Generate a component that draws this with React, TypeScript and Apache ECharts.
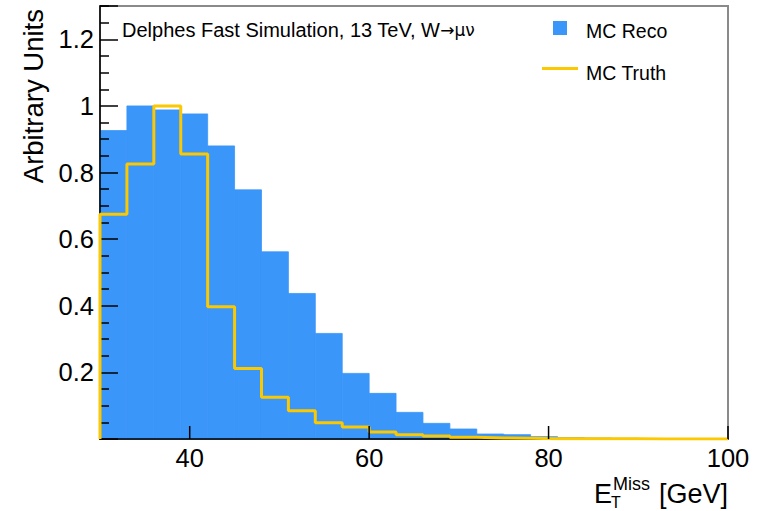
import React, { useEffect, useRef } from 'react';
import * as echarts from 'echarts';

// Lower edges of the 3 GeV bins (last entry is the upper edge of the last bin)
const binEdges = [30, 33, 36, 39, 42, 45, 48, 51, 54, 57, 60, 63, 66, 69, 72, 75, 78, 81, 84, 87, 90, 93, 96, 99];
const recoValues = [0.926, 1.0, 0.988, 0.976, 0.88, 0.748, 0.562, 0.437, 0.317, 0.197, 0.137, 0.08, 0.047, 0.03, 0.015, 0.013, 0.007, 0.004, 0.003, 0.002, 0.001, 0.001, 0.001];
const truthValues = [0.675, 0.826, 1.0, 0.856, 0.397, 0.212, 0.125, 0.085, 0.049, 0.036, 0.021, 0.013, 0.009, 0.005, 0.003, 0.002, 0.001, 0.001, 0.0005, 0.0005, 0.0003, 0.0002, 0.0002];
const xTickValues = [40, 60, 80, 100];
const yTickLabelValues = [0.2, 0.4, 0.6, 0.8, 1, 1.2];

const BLUE = '#3a96f9';
const YELLOW = '#fcc800';
const FONT = '"Liberation Sans", Arial, Helvetica, sans-serif';

export default function App() {
  const ref = useRef<HTMLDivElement>(null);
  useEffect(() => {
    if (!ref.current) return;
    const chart = echarts.init(ref.current, null, { renderer: 'svg' });

    const recoData = recoValues.map((v, i) => [binEdges[i], binEdges[i + 1], v]);
    const truthData: number[][] = [[binEdges[0], 0]];
    truthValues.forEach((v, i) => truthData.push([binEdges[i], v]));
    truthData.push([100, truthValues[truthValues.length - 1]]);

    const option: any = {
      animation: false,
      backgroundColor: '#ffffff',
      textStyle: { fontFamily: FONT },
      grid: { left: 100, right: 32, top: 6, bottom: 72, show: true, borderColor: '#8a8a8a', borderWidth: 2, backgroundColor: 'transparent' },
      xAxis: {
        type: 'value', min: 30, max: 100, interval: 10, z: 3,
        axisLine: { show: true, onZero: false, lineStyle: { color: '#000', width: 1.5 } },
        axisTick: { show: false },
        splitLine: { show: false },
        axisLabel: {
          formatter: (v: number) => (xTickValues.indexOf(v) >= 0 ? String(v) : ''),
          fontSize: 25.5, color: '#000', margin: 6, fontFamily: FONT,
        },
      },
      yAxis: {
        type: 'value', min: 0, max: 1.3, interval: 0.2, z: 3,
        axisLine: { show: true, onZero: false, lineStyle: { color: '#000', width: 1.5 } },
        axisTick: { show: true, inside: true, length: 18, lineStyle: { color: '#000', width: 1.5 } },
        minorTick: { show: true, splitNumber: 4, length: 9, lineStyle: { color: '#000', width: 1.5 } },
        splitLine: { show: false },
        minorSplitLine: { show: false },
        axisLabel: {
          formatter: (v: number) => {
            const m = yTickLabelValues.find((t) => Math.abs(t - v) < 1e-6);
            return m === undefined ? '' : String(m);
          },
          fontSize: 25.5, color: '#000', margin: 6, fontFamily: FONT,
        },
      },
      series: [
        {
          type: 'custom', name: 'MC Reco', z: 2, silent: true,
          data: recoData,
          encode: { x: [0, 1], y: 2 },
          itemStyle: { color: BLUE },
          renderItem: (params: any, api: any) => {
            const x0 = api.value(0);
            const x1 = Math.min(api.value(1), 100);
            const v = api.value(2);
            const p0 = api.coord([x0, v]);
            const p1 = api.coord([x1, 0]);
            return {
              type: 'rect',
              shape: { x: p0[0], y: p0[1], width: p1[0] - p0[0], height: p1[1] - p0[1] },
              style: { fill: BLUE, stroke: BLUE, lineWidth: 0.8 },
            };
          },
        },
        {
          type: 'line', name: 'MC Truth', z: 4, silent: true,
          data: truthData, step: 'end', symbol: 'none',
          lineStyle: { color: YELLOW, width: 3 },
          itemStyle: { color: YELLOW },
        },
        {
          type: 'custom', name: 'xticks', z: 5, silent: true,
          data: xTickValues.map((v) => [v, 0]),
          renderItem: (params: any, api: any) => {
            const p = api.coord([api.value(0), 0]);
            return {
              type: 'line',
              shape: { x1: p[0], y1: p[1], x2: p[0], y2: p[1] - 13 },
              style: { stroke: '#000', lineWidth: 1.5 },
            };
          },
        },
      ],
      graphic: [
        {
          type: 'text', x: 33, y: 9, rotation: Math.PI / 2,
          style: { text: 'Arbitrary Units', fontSize: 27.5, fontFamily: FONT, fill: '#000', align: 'right', verticalAlign: 'middle' },
        },
        {
          type: 'text', x: 122, y: 30,
          style: {
            text: '{a|Delphes Fast Simulation, 13 TeV, W}{b|→μν}',
            verticalAlign: 'middle', align: 'left',
            rich: {
              a: { fontSize: 20, fontFamily: FONT, fill: '#000', color: '#000' },
              b: { fontSize: 17, fontFamily: '"DejaVu Sans", ' + FONT, fill: '#000', color: '#000' },
            },
          },
        },
        { type: 'rect', shape: { x: 553, y: 21, width: 14, height: 14 }, style: { fill: BLUE } },
        { type: 'text', x: 586, y: 31, style: { text: 'MC Reco', fontSize: 19.5, fontFamily: FONT, fill: '#000', verticalAlign: 'middle' } },
        { type: 'line', shape: { x1: 542, y1: 68.5, x2: 578, y2: 68.5 }, style: { stroke: YELLOW, lineWidth: 3 } },
        { type: 'text', x: 586, y: 73, style: { text: 'MC Truth', fontSize: 19.5, fontFamily: FONT, fill: '#000', verticalAlign: 'middle' } },
        // x-axis title: E_T^Miss [GeV]
        { type: 'text', x: 594, y: 494, style: { text: 'E', fontSize: 27, fontFamily: FONT, fill: '#000', verticalAlign: 'middle' } },
        { type: 'text', x: 613, y: 484, style: { text: 'Miss', fontSize: 18, fontFamily: FONT, fill: '#000', verticalAlign: 'middle' } },
        { type: 'text', x: 611, y: 502, style: { text: 'T', fontSize: 16, fontFamily: FONT, fill: '#000', verticalAlign: 'middle' } },
        { type: 'text', x: 728, y: 494, style: { text: '[GeV]', fontSize: 27, fontFamily: FONT, fill: '#000', align: 'right', verticalAlign: 'middle' } },
      ],
    };
    chart.setOption(option);
    return () => chart.dispose();
  }, []);
  return <div ref={ref} style={{ width: 760, height: 511, position: 'absolute', left: 0, top: 0 }} />;
}
